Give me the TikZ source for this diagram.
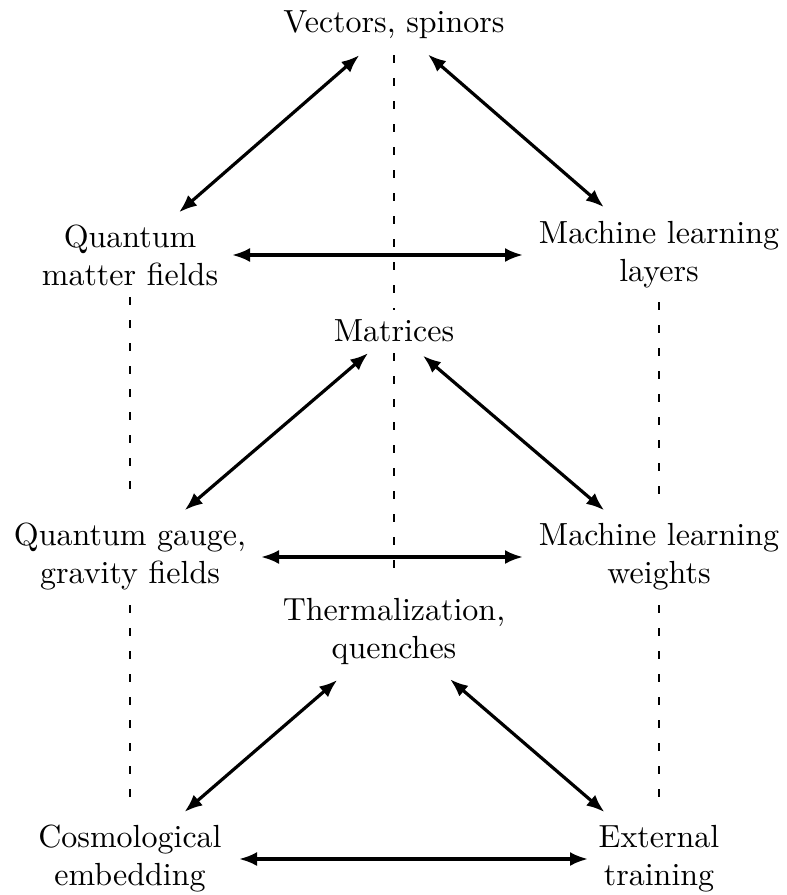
\documentclass[tikz,border=0pt]{standalone}
\usepackage{fontspec}
\setmainfont{lmroman10-regular.otf}
\usetikzlibrary{arrows.meta}
\begin{document}
\begin{tikzpicture}[x=1bp,y=-1bp,
  lbl/.style={align=center, inner sep=0pt, font=\fontsize{32bp}{38bp}\selectfont},
  link/.style={line width=3.2bp, {Latex[length=18bp,width=14bp]}-{Latex[length=18bp,width=14bp]}},
  guide/.style={line width=1.4bp, dash pattern=on 7.5bp off 15.5bp}]
\useasboundingbox (0,0) rectangle (787,895);
% nodes
\node[lbl] (vec) at (394,25) {Vectors, spinors};
\node[lbl] (qmf) at (130,255) {Quantum\\matter fields};
\node[lbl] (mll) at (659,255) {Machine learning\\layers};
\node[lbl] (mat) at (394,331) {Matrices};
\node[lbl] (qgg) at (130,557) {Quantum gauge,\\gravity fields};
\node[lbl] (mlw) at (659,557) {Machine learning\\weights};
\node[lbl] (thq) at (394,631) {Thermalization,\\quenches};
\node[lbl] (cos) at (130,859) {Cosmological\\embedding};
\node[lbl] (ext) at (659,859) {External\\training};
% dashed guides
\draw[guide, shorten <=30bp, shorten >=21bp] (vec.center) -- (mat.center);
\draw[guide, shorten <=22bp, shorten >=56bp] (mat.center) -- (thq.center);
\draw[guide, shorten <=42bp, shorten >=62bp] (qmf.center) -- (qgg.center);
\draw[guide, shorten <=48bp, shorten >=56bp] (qgg.center) -- (cos.center);
\draw[guide, shorten <=47bp, shorten >=62bp] (mll.center) -- (mlw.center);
\draw[guide, shorten <=48bp, shorten >=56bp] (mlw.center) -- (ext.center);
% arrows
\draw[link, shorten <=46bp, shorten >=65bp] (vec.center) -- (qmf.center);
\draw[link, shorten <=45bp, shorten >=73bp] (vec.center) -- (mll.center);
\draw[link, shorten <=102bp, shorten >=136bp] (qmf.center) -- (mll.center);
\draw[link, shorten <=34bp, shorten >=72bp] (mat.center) -- (qgg.center);
\draw[link, shorten <=38bp, shorten >=72bp] (mat.center) -- (mlw.center);
\draw[link, shorten <=131bp, shorten >=136bp] (qgg.center) -- (mlw.center);
\draw[link, shorten <=75bp, shorten >=72bp] (thq.center) -- (cos.center);
\draw[link, shorten <=74bp, shorten >=72bp] (thq.center) -- (ext.center);
\draw[link, shorten <=109bp, shorten >=71bp] (cos.center) -- (ext.center);
\end{tikzpicture}
\end{document}
